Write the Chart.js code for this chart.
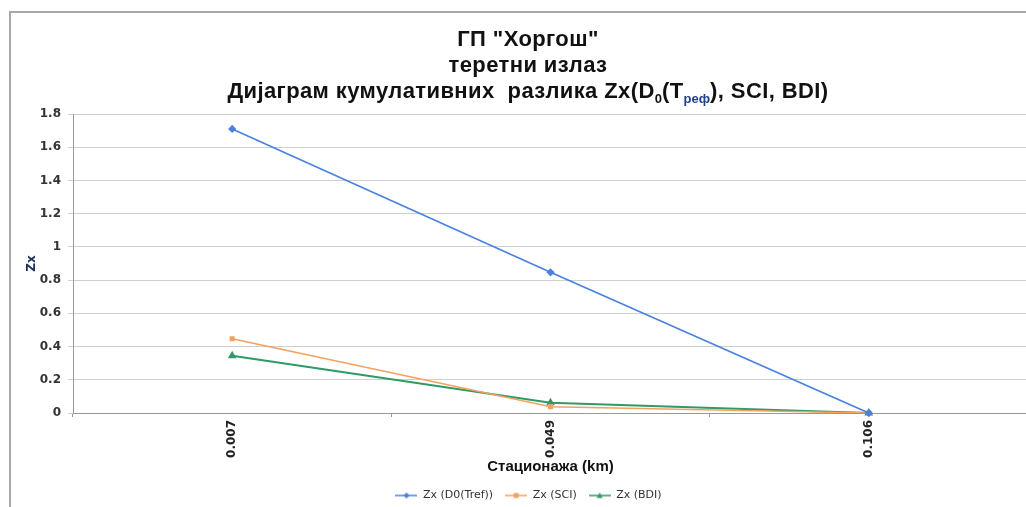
<!DOCTYPE html>
<html>
<head>
<meta charset="utf-8">
<script src="https://cdn.jsdelivr.net/npm/chart.js@4/dist/chart.umd.min.js"></script>
<style>
    html, body { margin: 0; padding: 0; background: #fff; overflow: hidden; }
    #wrap { position: relative; width: 1026px; height: 507px; overflow: hidden; }
    #frame { position: absolute; left: 9px; top: 11px; width: 1100px; height: 600px;
             border-left: 2px solid #a8a8a8; border-top: 2px solid #a8a8a8; }
    #title { position: absolute; left: 0; top: 26px; width: 1056px; text-align: center;
             font-family: "Liberation Sans", Arial, sans-serif; font-weight: bold;
             font-size: 22px; line-height: 26px; letter-spacing: 0.4px; color: #111; }
    #title sub { font-size: 13px; vertical-align: -5px; line-height: 0; letter-spacing: 0; }
    #title sub.blue { color: #1f3f8f; }
    canvas { position: absolute; left: 0; top: 0; }
</style>
</head>
<body>
<div id="wrap">
    <div id="frame"></div>
    <canvas id="chart" width="1034" height="511"></canvas>
    <div id="title">ГП "Хоргош"<br>теретни излаз<br>Дијаграм кумулативних&nbsp; разлика Zx(D<sub>0</sub>(T<sub class="blue">реф</sub>), SCI, BDI)</div>
</div>
<script>
const stations = ['0.007', '0.049', '0.106'];
const zxD0 = [1.71, 0.847, 0];
const zxSCI = [0.447, 0.038, 0];
const zxBDI = [0.344, 0.062, 0];
const yTicks = [0, 0.2, 0.4, 0.6, 0.8, 1, 1.2, 1.4, 1.6, 1.8];

const colors = {
    blue: '#4a80e0',
    orange: '#f4a160',
    green: '#2f9a66'
};

// little "line with marker" pictures for the legend
function legendIcon(color, shape) {
    const c = document.createElement('canvas');
    c.width = 22;
    c.height = 10;
    const ctx = c.getContext('2d');
    ctx.strokeStyle = color;
    ctx.fillStyle = color;
    ctx.lineWidth = 1.5;
    ctx.beginPath();
    ctx.moveTo(0, 5);
    ctx.lineTo(22, 5);
    ctx.stroke();
    ctx.beginPath();
    if (shape === 'diamond') {
        ctx.moveTo(11, 2); ctx.lineTo(14, 5); ctx.lineTo(11, 8); ctx.lineTo(8, 5);
    } else if (shape === 'square') {
        ctx.rect(8.5, 2.5, 5, 5);
    } else {
        ctx.moveTo(11, 2); ctx.lineTo(14, 7.5); ctx.lineTo(8, 7.5);
    }
    ctx.closePath();
    ctx.fill();
    return c;
}

const icons = [
    legendIcon(colors.blue, 'diamond'),
    legendIcon(colors.orange, 'square'),
    legendIcon(colors.green, 'triangle')
];

const sans = '"Liberation Sans", Arial, sans-serif';
const wide = '"DejaVu Sans", Verdana, sans-serif';

var options = {
    type: 'line',
    data: {
        labels: stations,
        datasets: [{
            label: 'Zx (D0(Tref))',
            data: zxD0,
            borderColor: colors.blue,
            backgroundColor: colors.blue,
            pointStyle: 'rectRot',
            pointRadius: 3,
            borderWidth: 1.6,
            clip: false
        },
        {
            label: 'Zx (SCI)',
            data: zxSCI,
            borderColor: colors.orange,
            backgroundColor: colors.orange,
            pointStyle: 'rect',
            pointRadius: 2.5,
            borderWidth: 1.6,
            clip: false
        },
        {
            label: 'Zx (BDI)',
            data: zxBDI,
            borderColor: colors.green,
            backgroundColor: colors.green,
            pointStyle: 'triangle',
            pointRadius: 3,
            borderWidth: 2,
            clip: false
        }]
    },
    options: {
        responsive: false,
        animation: false,
        events: [],
        layout: {
            padding: { left: 23, top: 114, right: 0, bottom: 0 }
        },
        plugins: {
            legend: {
                position: 'bottom',
                labels: {
                    usePointStyle: true,
                    pointStyleWidth: 22,
                    boxHeight: 10,
                    padding: 12,
                    color: '#333',
                    font: { family: wide, size: 11 },
                    generateLabels: (chart) => chart.data.datasets.map((ds, i) => ({
                        text: ds.label,
                        pointStyle: icons[i],
                        fillStyle: ds.borderColor,
                        strokeStyle: ds.borderColor,
                        fontColor: '#333',
                        lineWidth: 0,
                        datasetIndex: i
                    }))
                }
            },
            tooltip: { enabled: false }
        },
        scales: {
            x: {
                offset: true,
                afterFit: (scale) => {
                    scale.height = 65;
                },
                grid: {
                    offset: true,
                    drawOnChartArea: false,
                    tickLength: 4,
                    color: '#999'
                },
                border: { color: '#999' },
                ticks: {
                    minRotation: 90,
                    maxRotation: 90,
                    padding: 3,
                    color: '#222',
                    font: { family: wide, size: 12, weight: 'bold' }
                },
                title: {
                    display: true,
                    text: 'Стационажа (km)',
                    color: '#111',
                    padding: { top: 0, bottom: 4 },
                    font: { family: '"Liberation Sans Narrow", ' + sans, size: 15, weight: 'bold', lineHeight: 1 }
                }
            },
            y: {
                min: 0,
                max: 1.8,
                afterBuildTicks: (scale) => {
                    scale.ticks = yTicks.map(v => ({ value: v }));
                },
                afterFit: (scale) => {
                    scale.width = 50;
                },
                grid: {
                    color: '#d0d0d0',
                    tickLength: 5
                },
                border: { color: '#999' },
                ticks: {
                    padding: 7,
                    color: '#333',
                    font: { family: wide, size: 12, weight: 'bold' },
                    callback: (v) => String(+v.toFixed(1))
                },
                title: {
                    display: true,
                    text: 'Zx',
                    color: '#1f3060',
                    padding: { top: 2, bottom: 0 },
                    font: { family: wide, size: 12, weight: 'bold' }
                }
            }
        }
    }
};

var ctx = document.getElementById('chart').getContext('2d');
const chart = new Chart(ctx, options);
</script>
</body>
</html>
